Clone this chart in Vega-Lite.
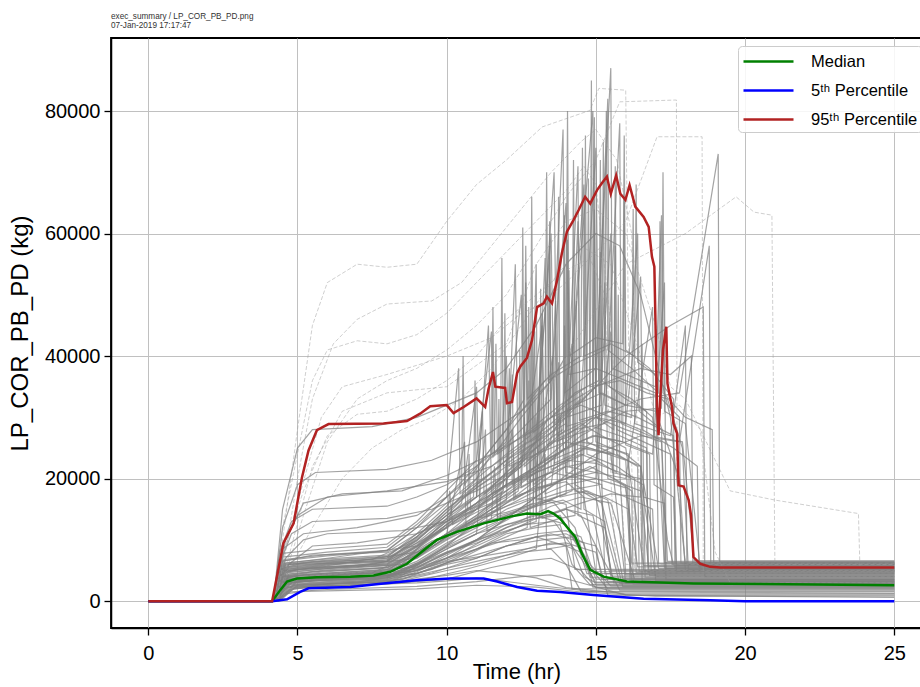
{
"$schema": "https://vega.github.io/schema/vega-lite/v6.json",
"width": 811,
"height": 590,
"autosize": {"type": "none"},
"padding": {"left": 111, "top": 38, "right": 0, "bottom": 59},
"background": "white",
"title": {"text": ["exec_summary / LP_COR_PB_PD.png", "07-Jan-2019 17:17:47"], "anchor": "start", "frame": "group", "fontSize": 8.2, "fontWeight": "normal", "font": "Liberation Sans", "color": "#333333", "offset": 8, "lineHeight": 8.5},
"config": {
  "view": {"stroke": "black", "strokeWidth": 1.8},
  "axis": {"domainColor": "black", "domainWidth": 1.5, "tickColor": "black", "tickWidth": 1.3, "tickSize": 7, "gridColor": "#c0c0c0", "gridWidth": 1, "labelFont": "Liberation Sans", "labelFontSize": 20, "labelColor": "black", "titleFont": "Liberation Sans", "titleFontWeight": "normal", "titleColor": "black"},
  "legend": {"orient": "none", "legendX": 627, "legendY": 8, "symbolType": "M-1,0H4", "symbolSize": 400, "symbolStrokeWidth": 2.5, "labelFontSize": 16.5, "labelFont": "Liberation Sans", "labelColor": "black", "labelOffset": 46, "rowPadding": 9, "fillColor": "rgba(255,255,255,0.85)", "strokeColor": "#cccccc", "cornerRadius": 4, "padding": 4}
},
"datasets": {
"stats": [
{"stat":"Median","t":0,"v":0},{"stat":"Median","t":4.15,"v":0},{"stat":"Median","t":4.42,"v":1800},{"stat":"Median","t":4.65,"v":3200},{"stat":"Median","t":4.98,"v":3700},{"stat":"Median","t":5.65,"v":3900},{"stat":"Median","t":6.77,"v":4000},{"stat":"Median","t":7.55,"v":4200},{"stat":"Median","t":8.11,"v":4800},{"stat":"Median","t":8.67,"v":6100},{"stat":"Median","t":9.23,"v":8300},{"stat":"Median","t":9.67,"v":10000},{"stat":"Median","t":10.34,"v":11300},{"stat":"Median","t":11.24,"v":12700},{"stat":"Median","t":12.13,"v":13800},{"stat":"Median","t":12.69,"v":14300},{"stat":"Median","t":13.14,"v":14200},{"stat":"Median","t":13.4,"v":14700},{"stat":"Median","t":13.58,"v":14300},{"stat":"Median","t":13.8,"v":13500},{"stat":"Median","t":14.03,"v":12100},{"stat":"Median","t":14.31,"v":10500},{"stat":"Median","t":14.53,"v":7800},{"stat":"Median","t":14.81,"v":5100},{"stat":"Median","t":15.26,"v":4000},{"stat":"Median","t":16.04,"v":3200},{"stat":"Median","t":18.27,"v":2900},{"stat":"Median","t":25,"v":2600},
{"stat":"5ᵗʰ Percentile","t":0,"v":0},{"stat":"5ᵗʰ Percentile","t":4.15,"v":0},{"stat":"5ᵗʰ Percentile","t":4.65,"v":300},{"stat":"5ᵗʰ Percentile","t":5.09,"v":1500},{"stat":"5ᵗʰ Percentile","t":5.37,"v":2100},{"stat":"5ᵗʰ Percentile","t":6.77,"v":2300},{"stat":"5ᵗʰ Percentile","t":7.88,"v":2900},{"stat":"5ᵗʰ Percentile","t":9.0,"v":3400},{"stat":"5ᵗʰ Percentile","t":10.12,"v":3700},{"stat":"5ᵗʰ Percentile","t":11.24,"v":3700},{"stat":"5ᵗʰ Percentile","t":11.69,"v":3200},{"stat":"5ᵗʰ Percentile","t":12.36,"v":2300},{"stat":"5ᵗʰ Percentile","t":13.03,"v":1700},{"stat":"5ᵗʰ Percentile","t":13.8,"v":1500},{"stat":"5ᵗʰ Percentile","t":14.92,"v":1000},{"stat":"5ᵗʰ Percentile","t":16.6,"v":400},{"stat":"5ᵗʰ Percentile","t":18.83,"v":150},{"stat":"5ᵗʰ Percentile","t":20,"v":0},{"stat":"5ᵗʰ Percentile","t":25,"v":0},
{"stat":"95ᵗʰ Percentile","t":0,"v":0},{"stat":"95ᵗʰ Percentile","t":4.15,"v":0},{"stat":"95ᵗʰ Percentile","t":4.53,"v":9500},{"stat":"95ᵗʰ Percentile","t":4.87,"v":12700},{"stat":"95ᵗʰ Percentile","t":5.15,"v":20200},{"stat":"95ᵗʰ Percentile","t":5.37,"v":24600},{"stat":"95ᵗʰ Percentile","t":5.65,"v":27900},{"stat":"95ᵗʰ Percentile","t":6.04,"v":28900},{"stat":"95ᵗʰ Percentile","t":7.88,"v":29000},{"stat":"95ᵗʰ Percentile","t":8.67,"v":29400},{"stat":"95ᵗʰ Percentile","t":9.11,"v":30600},{"stat":"95ᵗʰ Percentile","t":9.45,"v":31800},{"stat":"95ᵗʰ Percentile","t":10.0,"v":32000},{"stat":"95ᵗʰ Percentile","t":10.23,"v":30700},{"stat":"95ᵗʰ Percentile","t":10.57,"v":31700},{"stat":"95ᵗʰ Percentile","t":11.0,"v":33100},{"stat":"95ᵗʰ Percentile","t":11.29,"v":31700},{"stat":"95ᵗʰ Percentile","t":11.4,"v":34600},{"stat":"95ᵗʰ Percentile","t":11.55,"v":37400},{"stat":"95ᵗʰ Percentile","t":11.63,"v":35000},{"stat":"95ᵗʰ Percentile","t":11.96,"v":34800},{"stat":"95ᵗʰ Percentile","t":12.02,"v":32300},{"stat":"95ᵗʰ Percentile","t":12.19,"v":32500},{"stat":"95ᵗʰ Percentile","t":12.36,"v":37200},{"stat":"95ᵗʰ Percentile","t":12.47,"v":38300},{"stat":"95ᵗʰ Percentile","t":12.69,"v":39700},{"stat":"95ᵗʰ Percentile","t":12.86,"v":42600},{"stat":"95ᵗʰ Percentile","t":13.03,"v":48000},{"stat":"95ᵗʰ Percentile","t":13.25,"v":48600},{"stat":"95ᵗʰ Percentile","t":13.36,"v":49700},{"stat":"95ᵗʰ Percentile","t":13.53,"v":48600},{"stat":"95ᵗʰ Percentile","t":13.7,"v":52400},{"stat":"95ᵗʰ Percentile","t":13.86,"v":56800},{"stat":"95ᵗʰ Percentile","t":14.03,"v":60300},{"stat":"95ᵗʰ Percentile","t":14.25,"v":62200},{"stat":"95ᵗʰ Percentile","t":14.42,"v":63800},{"stat":"95ᵗʰ Percentile","t":14.64,"v":66000},{"stat":"95ᵗʰ Percentile","t":14.81,"v":64900},{"stat":"95ᵗʰ Percentile","t":15.04,"v":67100},{"stat":"95ᵗʰ Percentile","t":15.2,"v":68200},{"stat":"95ᵗʰ Percentile","t":15.37,"v":69300},{"stat":"95ᵗʰ Percentile","t":15.5,"v":66500},{"stat":"95ᵗʰ Percentile","t":15.68,"v":69500},{"stat":"95ᵗʰ Percentile","t":15.82,"v":66500},{"stat":"95ᵗʰ Percentile","t":15.99,"v":65500},{"stat":"95ᵗʰ Percentile","t":16.13,"v":67900},{"stat":"95ᵗʰ Percentile","t":16.32,"v":64400},{"stat":"95ᵗʰ Percentile","t":16.6,"v":62700},{"stat":"95ᵗʰ Percentile","t":16.77,"v":61100},{"stat":"95ᵗʰ Percentile","t":16.82,"v":58900},{"stat":"95ᵗʰ Percentile","t":16.88,"v":56200},{"stat":"95ᵗʰ Percentile","t":16.96,"v":54600},{"stat":"95ᵗʰ Percentile","t":17.0,"v":45000},{"stat":"95ᵗʰ Percentile","t":17.05,"v":31700},{"stat":"95ᵗʰ Percentile","t":17.1,"v":27100},{"stat":"95ᵗʰ Percentile","t":17.16,"v":33400},{"stat":"95ᵗʰ Percentile","t":17.25,"v":41000},{"stat":"95ᵗʰ Percentile","t":17.36,"v":44800},{"stat":"95ᵗʰ Percentile","t":17.4,"v":35500},{"stat":"95ᵗʰ Percentile","t":17.55,"v":31700},{"stat":"95ᵗʰ Percentile","t":17.6,"v":29000},{"stat":"95ᵗʰ Percentile","t":17.72,"v":27400},{"stat":"95ᵗʰ Percentile","t":17.77,"v":18900},{"stat":"95ᵗʰ Percentile","t":17.94,"v":18700},{"stat":"95ᵗʰ Percentile","t":18.11,"v":16500},{"stat":"95ᵗʰ Percentile","t":18.19,"v":14000},{"stat":"95ᵗʰ Percentile","t":18.27,"v":7200},{"stat":"95ᵗʰ Percentile","t":18.5,"v":6100},{"stat":"95ᵗʰ Percentile","t":18.83,"v":5600},{"stat":"95ᵗʰ Percentile","t":19.17,"v":5500},{"stat":"95ᵗʰ Percentile","t":25,"v":5500}
],
"runs": [
{"run":1,"t":0,"v":0},{"run":1,"t":4.2,"v":0},{"run":1,"t":4.5,"v":2500},{"run":1,"t":5,"v":3200},{"run":1,"t":8,"v":3800},{"run":1,"t":9,"v":5000},{"run":1,"t":10,"v":6500},{"run":1,"t":11,"v":7200},{"run":1,"t":12,"v":8000},{"run":1,"t":13,"v":8800},{"run":1,"t":13.5,"v":9500},{"run":1,"t":14.2,"v":9000},{"run":1,"t":14.6,"v":4000},{"run":1,"t":15,"v":3000},{"run":1,"t":25,"v":3000},
{"run":2,"t":0,"v":0},{"run":2,"t":4.25,"v":0},{"run":2,"t":4.6,"v":3800},{"run":2,"t":5.2,"v":4300},{"run":2,"t":7.5,"v":4600},{"run":2,"t":8.5,"v":6800},{"run":2,"t":9.5,"v":9800},{"run":2,"t":10.5,"v":11500},{"run":2,"t":11.5,"v":13500},{"run":2,"t":11.6,"v":22000},{"run":2,"t":11.7,"v":13800},{"run":2,"t":12.5,"v":15000},{"run":2,"t":13.5,"v":16500},{"run":2,"t":14,"v":15800},{"run":2,"t":14.3,"v":5200},{"run":2,"t":25,"v":5200},
{"run":3,"t":0,"v":0},{"run":3,"t":4.3,"v":0},{"run":3,"t":4.7,"v":1800},{"run":3,"t":5.5,"v":2400},{"run":3,"t":8,"v":2900},{"run":3,"t":9,"v":3600},{"run":3,"t":10,"v":4200},{"run":3,"t":11,"v":5000},{"run":3,"t":12,"v":4500},{"run":3,"t":13,"v":3800},{"run":3,"t":14,"v":2200},{"run":3,"t":16,"v":1200},{"run":3,"t":25,"v":1200},
{"run":4,"t":0,"v":0},{"run":4,"t":4.15,"v":0},{"run":4,"t":4.4,"v":5200},{"run":4,"t":5,"v":6000},{"run":4,"t":8,"v":6500},{"run":4,"t":9,"v":9000},{"run":4,"t":10,"v":12000},{"run":4,"t":10.1,"v":18000},{"run":4,"t":10.2,"v":12500},{"run":4,"t":11,"v":14500},{"run":4,"t":12,"v":17000},{"run":4,"t":12.5,"v":19000},{"run":4,"t":12.6,"v":30000},{"run":4,"t":12.7,"v":19500},{"run":4,"t":13.5,"v":21000},{"run":4,"t":14.5,"v":20000},{"run":4,"t":15.2,"v":19000},{"run":4,"t":15.3,"v":4500},{"run":4,"t":25,"v":4500},
{"run":5,"t":0,"v":0},{"run":5,"t":4.2,"v":0},{"run":5,"t":4.8,"v":3000},{"run":5,"t":6,"v":3500},{"run":5,"t":8,"v":4000},{"run":5,"t":9,"v":6000},{"run":5,"t":10,"v":8500},{"run":5,"t":11,"v":11000},{"run":5,"t":12,"v":12500},{"run":5,"t":13,"v":14000},{"run":5,"t":14,"v":12500},{"run":5,"t":14.8,"v":6000},{"run":5,"t":15.5,"v":2500},{"run":5,"t":25,"v":2500},
{"run":6,"t":0,"v":0},{"run":6,"t":4.35,"v":0},{"run":6,"t":4.9,"v":2200},{"run":6,"t":6,"v":2800},{"run":6,"t":8.5,"v":3500},{"run":6,"t":9.5,"v":5500},{"run":6,"t":10.5,"v":7000},{"run":6,"t":11.5,"v":9500},{"run":6,"t":12.5,"v":10000},{"run":6,"t":13.5,"v":11000},{"run":6,"t":15,"v":9000},{"run":6,"t":15.8,"v":1800},{"run":6,"t":25,"v":1800},
{"run":7,"t":0,"v":0},{"run":7,"t":4.2,"v":0},{"run":7,"t":4.5,"v":4500},{"run":7,"t":5,"v":5200},{"run":7,"t":7,"v":5600},{"run":7,"t":8,"v":6500},{"run":7,"t":9,"v":10500},{"run":7,"t":10,"v":15000},{"run":7,"t":11,"v":18500},{"run":7,"t":11.8,"v":21000},{"run":7,"t":12,"v":40000},{"run":7,"t":12.1,"v":22000},{"run":7,"t":13,"v":24000},{"run":7,"t":14,"v":26000},{"run":7,"t":14.8,"v":25000},{"run":7,"t":16,"v":23000},{"run":7,"t":16.2,"v":6200},{"run":7,"t":25,"v":6200},
{"run":8,"t":0,"v":0},{"run":8,"t":4.3,"v":0},{"run":8,"t":4.6,"v":1200},{"run":8,"t":5.2,"v":1600},{"run":8,"t":9,"v":2000},{"run":8,"t":11,"v":2600},{"run":8,"t":13,"v":2300},{"run":8,"t":14.5,"v":1500},{"run":8,"t":17,"v":800},{"run":8,"t":25,"v":800},
{"run":9,"t":0,"v":0},{"run":9,"t":4.25,"v":0},{"run":9,"t":4.7,"v":3400},{"run":9,"t":5.5,"v":3900},{"run":9,"t":8,"v":4300},{"run":9,"t":9,"v":5000},{"run":9,"t":10,"v":7500},{"run":9,"t":11,"v":10000},{"run":9,"t":12,"v":11500},{"run":9,"t":13,"v":13000},{"run":9,"t":13.1,"v":35000},{"run":9,"t":13.2,"v":13500},{"run":9,"t":14,"v":15000},{"run":9,"t":14.5,"v":14000},{"run":9,"t":15,"v":9000},{"run":9,"t":15.2,"v":3500},{"run":9,"t":25,"v":3500},
{"run":10,"t":0,"v":0},{"run":10,"t":4.2,"v":0},{"run":10,"t":4.55,"v":2900},{"run":10,"t":5.5,"v":3300},{"run":10,"t":8,"v":3600},{"run":10,"t":9,"v":4500},{"run":10,"t":10,"v":6000},{"run":10,"t":11,"v":7000},{"run":10,"t":12,"v":9000},{"run":10,"t":13,"v":10500},{"run":10,"t":14,"v":9000},{"run":10,"t":14.2,"v":2000},{"run":10,"t":25,"v":2000},
{"run":11,"t":0,"v":0},{"run":11,"t":4.4,"v":0},{"run":11,"t":5,"v":2600},{"run":11,"t":7,"v":3100},{"run":11,"t":8.5,"v":4200},{"run":11,"t":10,"v":9000},{"run":11,"t":11,"v":13000},{"run":11,"t":12,"v":16000},{"run":11,"t":12.8,"v":18000},{"run":11,"t":13,"v":55000},{"run":11,"t":13.05,"v":18500},{"run":11,"t":14,"v":20000},{"run":11,"t":15,"v":22000},{"run":11,"t":15.5,"v":60000},{"run":11,"t":15.55,"v":21000},{"run":11,"t":16.5,"v":20000},{"run":11,"t":17,"v":4000},{"run":11,"t":25,"v":4000},
{"run":12,"t":0,"v":0},{"run":12,"t":4.2,"v":0},{"run":12,"t":4.5,"v":4000},{"run":12,"t":5.5,"v":4800},{"run":12,"t":8,"v":5400},{"run":12,"t":9.2,"v":8000},{"run":12,"t":10.5,"v":12000},{"run":12,"t":11.5,"v":15000},{"run":12,"t":12.5,"v":17500},{"run":12,"t":13.5,"v":19000},{"run":12,"t":14.2,"v":42000},{"run":12,"t":14.3,"v":19000},{"run":12,"t":15,"v":17000},{"run":12,"t":15.6,"v":3000},{"run":12,"t":25,"v":3000},
{"run":13,"t":0,"v":0},{"run":13,"t":4.3,"v":0},{"run":13,"t":4.8,"v":2000},{"run":13,"t":6,"v":2500},{"run":13,"t":9,"v":3000},{"run":13,"t":10,"v":3300},{"run":13,"t":11,"v":3800},{"run":13,"t":12,"v":3200},{"run":13,"t":13,"v":2600},{"run":13,"t":15,"v":1500},{"run":13,"t":25,"v":1300},
{"run":14,"t":0,"v":0},{"run":14,"t":4.2,"v":0},{"run":14,"t":4.6,"v":3700},{"run":14,"t":5,"v":4100},{"run":14,"t":8,"v":4700},{"run":14,"t":9,"v":7200},{"run":14,"t":10,"v":10500},{"run":14,"t":10.8,"v":13000},{"run":14,"t":11.8,"v":16500},{"run":14,"t":12.2,"v":28000},{"run":14,"t":12.3,"v":17000},{"run":14,"t":13,"v":18500},{"run":14,"t":14,"v":19500},{"run":14,"t":14.6,"v":17000},{"run":14,"t":15,"v":4800},{"run":14,"t":25,"v":4800},
{"run":15,"t":0,"v":0},{"run":15,"t":4.25,"v":0},{"run":15,"t":4.5,"v":5800},{"run":15,"t":5.5,"v":6400},{"run":15,"t":7.5,"v":6800},{"run":15,"t":8.8,"v":9500},{"run":15,"t":10,"v":14000},{"run":15,"t":11,"v":19000},{"run":15,"t":12,"v":23000},{"run":15,"t":13,"v":26000},{"run":15,"t":13.6,"v":70000},{"run":15,"t":13.7,"v":27000},{"run":15,"t":14.5,"v":29000},{"run":15,"t":15.2,"v":27000},{"run":15,"t":16,"v":25000},{"run":15,"t":16.6,"v":5800},{"run":15,"t":25,"v":5800},
{"run":16,"t":0,"v":0},{"run":16,"t":4.3,"v":0},{"run":16,"t":4.7,"v":2700},{"run":16,"t":6,"v":3100},{"run":16,"t":8,"v":3400},{"run":16,"t":9.5,"v":5200},{"run":16,"t":11,"v":8500},{"run":16,"t":12,"v":11000},{"run":16,"t":13,"v":12000},{"run":16,"t":13.8,"v":12500},{"run":16,"t":14.2,"v":6000},{"run":16,"t":14.8,"v":2700},{"run":16,"t":25,"v":2700},
{"run":17,"t":0,"v":0},{"run":17,"t":4.2,"v":0},{"run":17,"t":4.6,"v":4400},{"run":17,"t":6,"v":5100},{"run":17,"t":8.5,"v":6000},{"run":17,"t":9.5,"v":11000},{"run":17,"t":10.5,"v":16000},{"run":17,"t":11,"v":35000},{"run":17,"t":11.1,"v":17000},{"run":17,"t":12,"v":20000},{"run":17,"t":13,"v":24000},{"run":17,"t":14,"v":28000},{"run":17,"t":14.9,"v":80000},{"run":17,"t":15,"v":30000},{"run":17,"t":16,"v":28000},{"run":17,"t":17.2,"v":26000},{"run":17,"t":17.4,"v":6500},{"run":17,"t":25,"v":6500},
{"run":18,"t":0,"v":0},{"run":18,"t":4.35,"v":0},{"run":18,"t":5,"v":3300},{"run":18,"t":7,"v":3800},{"run":18,"t":9,"v":5000},{"run":18,"t":10.5,"v":8000},{"run":18,"t":12,"v":12000},{"run":18,"t":13.5,"v":15500},{"run":18,"t":14.5,"v":17000},{"run":18,"t":15.5,"v":16000},{"run":18,"t":16.3,"v":3600},{"run":18,"t":25,"v":3600},
{"run":19,"t":0,"v":0},{"run":19,"t":4.2,"v":0},{"run":19,"t":4.7,"v":2300},{"run":19,"t":8,"v":2800},{"run":19,"t":10,"v":3600},{"run":19,"t":11.5,"v":5500},{"run":19,"t":12.5,"v":6500},{"run":19,"t":13.5,"v":7000},{"run":19,"t":14.5,"v":5000},{"run":19,"t":15,"v":2200},{"run":19,"t":25,"v":2200},
{"run":20,"t":0,"v":0},{"run":20,"t":4.25,"v":0},{"run":20,"t":4.5,"v":3500},{"run":20,"t":5.5,"v":4000},{"run":20,"t":8,"v":4600},{"run":20,"t":9,"v":6500},{"run":20,"t":10,"v":9500},{"run":20,"t":11,"v":12000},{"run":20,"t":12,"v":15000},{"run":20,"t":13,"v":17000},{"run":20,"t":13.2,"v":47000},{"run":20,"t":13.3,"v":17500},{"run":20,"t":14,"v":19000},{"run":20,"t":15,"v":20000},{"run":20,"t":15.3,"v":52000},{"run":20,"t":15.4,"v":20000},{"run":20,"t":16.5,"v":18000},{"run":20,"t":16.8,"v":4200},{"run":20,"t":25,"v":4200},
{"run":21,"t":0,"v":0},{"run":21,"t":4.2,"v":0},{"run":21,"t":4.4,"v":8000},{"run":21,"t":4.8,"v":13000},{"run":21,"t":5.5,"v":15000},{"run":21,"t":8,"v":15500},{"run":21,"t":9,"v":17000},{"run":21,"t":10,"v":19000},{"run":21,"t":11,"v":22000},{"run":21,"t":12,"v":26000},{"run":21,"t":12.5,"v":50000},{"run":21,"t":12.6,"v":27000},{"run":21,"t":13.5,"v":30000},{"run":21,"t":14.5,"v":32000},{"run":21,"t":15.5,"v":30000},{"run":21,"t":16.5,"v":28000},{"run":21,"t":16.6,"v":5000},{"run":21,"t":25,"v":5000},
{"run":22,"t":0,"v":0},{"run":22,"t":4.2,"v":0},{"run":22,"t":4.5,"v":12000},{"run":22,"t":5,"v":19000},{"run":22,"t":5.6,"v":21000},{"run":22,"t":8,"v":21500},{"run":22,"t":9.5,"v":23000},{"run":22,"t":11,"v":26000},{"run":22,"t":12.5,"v":31000},{"run":22,"t":13.5,"v":36000},{"run":22,"t":14,"v":65000},{"run":22,"t":14.1,"v":37000},{"run":22,"t":15,"v":38000},{"run":22,"t":16,"v":36000},{"run":22,"t":17,"v":34000},{"run":22,"t":17.3,"v":5400},{"run":22,"t":25,"v":5400},
{"run":23,"t":0,"v":0},{"run":23,"t":4.25,"v":0},{"run":23,"t":4.6,"v":7000},{"run":23,"t":5.2,"v":10000},{"run":23,"t":6,"v":11000},{"run":23,"t":8.5,"v":11500},{"run":23,"t":10,"v":13000},{"run":23,"t":11.5,"v":16000},{"run":23,"t":13,"v":20000},{"run":23,"t":14,"v":22000},{"run":23,"t":15,"v":21000},{"run":23,"t":15.5,"v":44000},{"run":23,"t":15.6,"v":20000},{"run":23,"t":16,"v":19000},{"run":23,"t":16.2,"v":3300},{"run":23,"t":25,"v":3300},
{"run":24,"t":0,"v":0},{"run":24,"t":4.2,"v":0},{"run":24,"t":4.5,"v":15000},{"run":24,"t":5,"v":25000},{"run":24,"t":5.5,"v":28000},{"run":24,"t":7.5,"v":28500},{"run":24,"t":9,"v":30000},{"run":24,"t":10,"v":32000},{"run":24,"t":11,"v":34000},{"run":24,"t":12,"v":38000},{"run":24,"t":13,"v":45000},{"run":24,"t":14,"v":55000},{"run":24,"t":15,"v":60000},{"run":24,"t":15.8,"v":58000},{"run":24,"t":16.5,"v":50000},{"run":24,"t":17.5,"v":30000},{"run":24,"t":18,"v":6000},{"run":24,"t":25,"v":6000},
{"run":25,"t":0,"v":0},{"run":25,"t":4.3,"v":0},{"run":25,"t":4.7,"v":6000},{"run":25,"t":5.5,"v":9000},{"run":25,"t":7,"v":9500},{"run":25,"t":9,"v":11000},{"run":25,"t":10.5,"v":14500},{"run":25,"t":12,"v":19000},{"run":25,"t":12.1,"v":38000},{"run":25,"t":12.2,"v":19000},{"run":25,"t":13.5,"v":23000},{"run":25,"t":14.5,"v":25000},{"run":25,"t":15.5,"v":24000},{"run":25,"t":16,"v":2900},{"run":25,"t":25,"v":2900},
{"run":26,"t":0,"v":0},{"run":26,"t":4.25,"v":0},{"run":26,"t":4.6,"v":10000},{"run":26,"t":5.2,"v":16000},{"run":26,"t":6.5,"v":17500},{"run":26,"t":8.5,"v":18000},{"run":26,"t":10,"v":20500},{"run":26,"t":11.5,"v":24000},{"run":26,"t":13,"v":28000},{"run":26,"t":13.5,"v":60000},{"run":26,"t":13.6,"v":29000},{"run":26,"t":14.5,"v":33000},{"run":26,"t":15,"v":74000},{"run":26,"t":15.1,"v":34000},{"run":26,"t":16,"v":32000},{"run":26,"t":17,"v":31000},{"run":26,"t":17.8,"v":20000},{"run":26,"t":18,"v":5000},{"run":26,"t":25,"v":5000},
{"run":27,"t":0,"v":0},{"run":27,"t":4.2,"v":0},{"run":27,"t":4.4,"v":3000},{"run":27,"t":5,"v":3600},{"run":27,"t":8,"v":4000},{"run":27,"t":9,"v":5500},{"run":27,"t":10,"v":7000},{"run":27,"t":11,"v":8500},{"run":27,"t":12,"v":10000},{"run":27,"t":13,"v":11000},{"run":27,"t":14,"v":11500},{"run":27,"t":14.5,"v":10500},{"run":27,"t":15,"v":3600},{"run":27,"t":25,"v":3600},
{"run":28,"t":0,"v":0},{"run":28,"t":4.3,"v":0},{"run":28,"t":4.6,"v":4800},{"run":28,"t":5.5,"v":5500},{"run":28,"t":8,"v":5800},{"run":28,"t":9,"v":8000},{"run":28,"t":10,"v":11000},{"run":28,"t":11,"v":13500},{"run":28,"t":12,"v":15500},{"run":28,"t":12.9,"v":17000},{"run":28,"t":13.6,"v":16000},{"run":28,"t":14.3,"v":12000},{"run":28,"t":14.8,"v":3900},{"run":28,"t":25,"v":3900},
{"run":29,"t":0,"v":0},{"run":29,"t":4.2,"v":0},{"run":29,"t":4.5,"v":2000},{"run":29,"t":5,"v":2700},{"run":29,"t":8,"v":3200},{"run":29,"t":9.5,"v":4800},{"run":29,"t":11,"v":6500},{"run":29,"t":12.5,"v":8000},{"run":29,"t":13.5,"v":8500},{"run":29,"t":14,"v":6000},{"run":29,"t":14.5,"v":1600},{"run":29,"t":25,"v":1600},
{"run":30,"t":0,"v":0},{"run":30,"t":4.25,"v":0},{"run":30,"t":4.6,"v":5500},{"run":30,"t":6,"v":6200},{"run":30,"t":8,"v":6700},{"run":30,"t":9,"v":10000},{"run":30,"t":10,"v":14000},{"run":30,"t":11,"v":17000},{"run":30,"t":11.4,"v":45000},{"run":30,"t":11.5,"v":17500},{"run":30,"t":12.5,"v":20000},{"run":30,"t":13.5,"v":22000},{"run":30,"t":14.5,"v":24000},{"run":30,"t":15,"v":23000},{"run":30,"t":15.5,"v":5000},{"run":30,"t":25,"v":5000},
{"run":31,"t":0,"v":0},{"run":31,"t":4.2,"v":0},{"run":31,"t":4.5,"v":3200},{"run":31,"t":6,"v":3700},{"run":31,"t":8.2,"v":4200},{"run":31,"t":9.5,"v":7000},{"run":31,"t":11,"v":10000},{"run":31,"t":12,"v":12500},{"run":31,"t":13,"v":13500},{"run":31,"t":13.8,"v":14000},{"run":31,"t":14.4,"v":9000},{"run":31,"t":14.7,"v":4500},{"run":31,"t":25,"v":4500},
{"run":32,"t":0,"v":0},{"run":32,"t":4.35,"v":0},{"run":32,"t":4.7,"v":4100},{"run":32,"t":6,"v":4600},{"run":32,"t":8,"v":5200},{"run":32,"t":9,"v":7500},{"run":32,"t":10.3,"v":11000},{"run":32,"t":11,"v":13500},{"run":32,"t":12,"v":14500},{"run":32,"t":13,"v":16000},{"run":32,"t":14,"v":17500},{"run":32,"t":14.4,"v":62000},{"run":32,"t":14.5,"v":18000},{"run":32,"t":15.2,"v":16000},{"run":32,"t":15.9,"v":2400},{"run":32,"t":25,"v":2400},
{"run":33,"t":0,"v":0},{"run":33,"t":4.2,"v":0},{"run":33,"t":4.5,"v":6500},{"run":33,"t":5.5,"v":7500},{"run":33,"t":8,"v":8000},{"run":33,"t":9,"v":11000},{"run":33,"t":10,"v":13000},{"run":33,"t":11,"v":15500},{"run":33,"t":12,"v":18000},{"run":33,"t":13,"v":21000},{"run":33,"t":13.8,"v":30000},{"run":33,"t":14,"v":21000},{"run":33,"t":15,"v":20000},{"run":33,"t":16,"v":18500},{"run":33,"t":16.4,"v":5600},{"run":33,"t":25,"v":5600},
{"run":34,"t":0,"v":0},{"run":34,"t":4.3,"v":0},{"run":34,"t":4.8,"v":2500},{"run":34,"t":7,"v":3000},{"run":34,"t":8.5,"v":3300},{"run":34,"t":10,"v":5000},{"run":34,"t":11,"v":6000},{"run":34,"t":12,"v":7500},{"run":34,"t":13,"v":9000},{"run":34,"t":14,"v":9500},{"run":34,"t":15,"v":8000},{"run":34,"t":15.4,"v":1000},{"run":34,"t":25,"v":1000},
{"run":35,"t":0,"v":0},{"run":35,"t":4.2,"v":0},{"run":35,"t":4.5,"v":3900},{"run":35,"t":5.5,"v":4400},{"run":35,"t":8,"v":4900},{"run":35,"t":9,"v":8500},{"run":35,"t":10,"v":12500},{"run":35,"t":11,"v":15000},{"run":35,"t":12,"v":19000},{"run":35,"t":12.3,"v":55000},{"run":35,"t":12.4,"v":19500},{"run":35,"t":13,"v":21000},{"run":35,"t":14,"v":23000},{"run":35,"t":15,"v":22500},{"run":35,"t":15.8,"v":21000},{"run":35,"t":16,"v":4300},{"run":35,"t":25,"v":4300},
{"run":36,"t":0,"v":0},{"run":36,"t":4.25,"v":0},{"run":36,"t":4.6,"v":2900},{"run":36,"t":5.5,"v":3400},{"run":36,"t":8,"v":3800},{"run":36,"t":9,"v":5500},{"run":36,"t":10,"v":8000},{"run":36,"t":11,"v":9500},{"run":36,"t":11.8,"v":11000},{"run":36,"t":12.6,"v":12500},{"run":36,"t":13.6,"v":13000},{"run":36,"t":14.5,"v":7000},{"run":36,"t":15,"v":3100},{"run":36,"t":25,"v":3100},
{"run":37,"t":0,"v":0},{"run":37,"t":4.3,"v":0},{"run":37,"t":4.7,"v":5000},{"run":37,"t":6,"v":5700},{"run":37,"t":8,"v":6000},{"run":37,"t":9.2,"v":9500},{"run":37,"t":10.2,"v":12800},{"run":37,"t":11.2,"v":16000},{"run":37,"t":12.2,"v":19500},{"run":37,"t":13.2,"v":22000},{"run":37,"t":14,"v":25000},{"run":37,"t":14.6,"v":68000},{"run":37,"t":14.7,"v":26000},{"run":37,"t":15.6,"v":24000},{"run":37,"t":16.5,"v":22000},{"run":37,"t":17.1,"v":5300},{"run":37,"t":25,"v":5300},
{"run":38,"t":0,"v":0},{"run":38,"t":4.2,"v":0},{"run":38,"t":4.6,"v":3500},{"run":38,"t":6,"v":3900},{"run":38,"t":9,"v":4500},{"run":38,"t":10,"v":6200},{"run":38,"t":11,"v":7600},{"run":38,"t":12,"v":9000},{"run":38,"t":13.2,"v":10000},{"run":38,"t":14.2,"v":10500},{"run":38,"t":14.8,"v":5500},{"run":38,"t":15.4,"v":2000},{"run":38,"t":25,"v":2000},
{"run":39,"t":0,"v":0},{"run":39,"t":4.3,"v":0},{"run":39,"t":4.7,"v":6000},{"run":39,"t":8,"v":7000},{"run":39,"t":10,"v":12000},{"run":39,"t":12,"v":20000},{"run":39,"t":14,"v":30000},{"run":39,"t":16,"v":40000},{"run":39,"t":17.5,"v":45000},{"run":39,"t":18.6,"v":48000},{"run":39,"t":18.65,"v":4000},{"run":39,"t":25,"v":4000},
{"run":40,"t":0,"v":0},{"run":40,"t":4.25,"v":0},{"run":40,"t":4.6,"v":4600},{"run":40,"t":6,"v":5300},{"run":40,"t":9,"v":7000},{"run":40,"t":11,"v":14000},{"run":40,"t":13,"v":22000},{"run":40,"t":15,"v":30000},{"run":40,"t":16.5,"v":33000},{"run":40,"t":17.8,"v":34000},{"run":40,"t":19.1,"v":73000},{"run":40,"t":19.15,"v":6400},{"run":40,"t":25,"v":6400},
{"run":41,"t":0,"v":0},{"run":41,"t":4.2,"v":0},{"run":41,"t":4.6,"v":4200},{"run":41,"t":6,"v":4800},{"run":41,"t":8,"v":5500},{"run":41,"t":9,"v":8000},{"run":41,"t":10,"v":11000},{"run":41,"t":10.6,"v":26000},{"run":41,"t":10.65,"v":12000},{"run":41,"t":11.5,"v":15000},{"run":41,"t":12.4,"v":18000},{"run":41,"t":12.45,"v":41000},{"run":41,"t":12.5,"v":18500},{"run":41,"t":13.4,"v":21000},{"run":41,"t":13.45,"v":58000},{"run":41,"t":13.5,"v":21500},{"run":41,"t":14.6,"v":24000},{"run":41,"t":14.65,"v":76000},{"run":41,"t":14.7,"v":24000},{"run":41,"t":15.7,"v":22000},{"run":41,"t":16.3,"v":20000},{"run":41,"t":16.35,"v":4700},{"run":41,"t":25,"v":4700},
{"run":42,"t":0,"v":0},{"run":42,"t":4.3,"v":0},{"run":42,"t":4.7,"v":3100},{"run":42,"t":6,"v":3600},{"run":42,"t":8,"v":4100},{"run":42,"t":9,"v":6000},{"run":42,"t":10,"v":9000},{"run":42,"t":11,"v":11500},{"run":42,"t":11.7,"v":13000},{"run":42,"t":11.75,"v":33000},{"run":42,"t":11.8,"v":13500},{"run":42,"t":12.9,"v":16000},{"run":42,"t":12.95,"v":44000},{"run":42,"t":13,"v":16500},{"run":42,"t":14,"v":18000},{"run":42,"t":15.1,"v":19000},{"run":42,"t":15.15,"v":57000},{"run":42,"t":15.2,"v":18500},{"run":42,"t":16,"v":17000},{"run":42,"t":16.9,"v":15000},{"run":42,"t":17,"v":3400},{"run":42,"t":25,"v":3400},
{"run":43,"t":0,"v":0},{"run":43,"t":4.2,"v":0},{"run":43,"t":4.5,"v":5000},{"run":43,"t":6,"v":5600},{"run":43,"t":8,"v":6200},{"run":43,"t":9,"v":9000},{"run":43,"t":10,"v":13000},{"run":43,"t":11,"v":17000},{"run":43,"t":11.2,"v":31000},{"run":43,"t":11.25,"v":17500},{"run":43,"t":12,"v":21000},{"run":43,"t":13,"v":25000},{"run":43,"t":13.9,"v":28000},{"run":43,"t":13.95,"v":63000},{"run":43,"t":14,"v":28500},{"run":43,"t":15,"v":30000},{"run":43,"t":15.6,"v":28000},{"run":43,"t":15.65,"v":71000},{"run":43,"t":15.7,"v":28000},{"run":43,"t":16.6,"v":26000},{"run":43,"t":17.5,"v":24000},{"run":43,"t":17.55,"v":6000},{"run":43,"t":25,"v":6000},
{"run":44,"t":0,"v":0},{"run":44,"t":4.25,"v":0},{"run":44,"t":4.6,"v":2600},{"run":44,"t":6,"v":3000},{"run":44,"t":8,"v":3500},{"run":44,"t":9.5,"v":5800},{"run":44,"t":11,"v":8500},{"run":44,"t":12,"v":10500},{"run":44,"t":12.7,"v":12000},{"run":44,"t":12.75,"v":36000},{"run":44,"t":12.8,"v":12000},{"run":44,"t":13.8,"v":13500},{"run":44,"t":14.3,"v":14000},{"run":44,"t":14.35,"v":49000},{"run":44,"t":14.4,"v":14000},{"run":44,"t":15.3,"v":12000},{"run":44,"t":15.8,"v":2900},{"run":44,"t":25,"v":2900},
{"run":45,"t":0,"v":0},{"run":45,"t":4.2,"v":0},{"run":45,"t":4.55,"v":6800},{"run":45,"t":6,"v":7600},{"run":45,"t":8,"v":8300},{"run":45,"t":9,"v":12000},{"run":45,"t":10,"v":16000},{"run":45,"t":11,"v":20000},{"run":45,"t":12,"v":24000},{"run":45,"t":12.8,"v":27000},{"run":45,"t":12.85,"v":66000},{"run":45,"t":12.9,"v":27500},{"run":45,"t":14,"v":32000},{"run":45,"t":15,"v":35000},{"run":45,"t":15.4,"v":82000},{"run":45,"t":15.45,"v":35000},{"run":45,"t":16.2,"v":33000},{"run":45,"t":16.9,"v":30000},{"run":45,"t":17.4,"v":10000},{"run":45,"t":17.6,"v":5900},{"run":45,"t":25,"v":5900},
{"run":46,"t":0,"v":0},{"run":46,"t":4.3,"v":0},{"run":46,"t":4.8,"v":2100},{"run":46,"t":7,"v":2600},{"run":46,"t":9,"v":3300},{"run":46,"t":10.5,"v":5000},{"run":46,"t":12,"v":7000},{"run":46,"t":13,"v":8500},{"run":46,"t":13.3,"v":24000},{"run":46,"t":13.35,"v":8500},{"run":46,"t":14,"v":9000},{"run":46,"t":14.5,"v":8000},{"run":46,"t":15,"v":2600},{"run":46,"t":25,"v":2600},
{"run":47,"t":0,"v":0},{"run":47,"t":4.2,"v":0},{"run":47,"t":4.5,"v":4700},{"run":47,"t":6,"v":5300},{"run":47,"t":8,"v":5900},{"run":47,"t":9,"v":8500},{"run":47,"t":10,"v":12000},{"run":47,"t":11,"v":15000},{"run":47,"t":11.9,"v":18000},{"run":47,"t":11.95,"v":47000},{"run":47,"t":12,"v":18500},{"run":47,"t":13,"v":22000},{"run":47,"t":14,"v":25000},{"run":47,"t":14.1,"v":54000},{"run":47,"t":14.15,"v":25500},{"run":47,"t":15,"v":27000},{"run":47,"t":15.9,"v":26000},{"run":47,"t":15.95,"v":66000},{"run":47,"t":16,"v":25500},{"run":47,"t":16.8,"v":24000},{"run":47,"t":16.85,"v":5100},{"run":47,"t":25,"v":5100},
{"run":48,"t":0,"v":0},{"run":48,"t":4.25,"v":0},{"run":48,"t":4.6,"v":3300},{"run":48,"t":6,"v":3800},{"run":48,"t":8,"v":4200},{"run":48,"t":9,"v":6200},{"run":48,"t":10,"v":8800},{"run":48,"t":11,"v":11000},{"run":48,"t":12,"v":13500},{"run":48,"t":13,"v":15500},{"run":48,"t":13.7,"v":17000},{"run":48,"t":13.75,"v":39000},{"run":48,"t":13.8,"v":17000},{"run":48,"t":14.7,"v":18000},{"run":48,"t":15.4,"v":16500},{"run":48,"t":15.9,"v":3700},{"run":48,"t":25,"v":3700},
{"run":49,"t":0,"v":0},{"run":49,"t":4.2,"v":0},{"run":49,"t":4.5,"v":7200},{"run":49,"t":6,"v":8000},{"run":49,"t":8,"v":8800},{"run":49,"t":9,"v":12500},{"run":49,"t":10,"v":17000},{"run":49,"t":10.4,"v":38000},{"run":49,"t":10.45,"v":17500},{"run":49,"t":11.5,"v":21000},{"run":49,"t":12.5,"v":25000},{"run":49,"t":13.5,"v":29000},{"run":49,"t":14.2,"v":32000},{"run":49,"t":14.25,"v":72000},{"run":49,"t":14.3,"v":32000},{"run":49,"t":15.2,"v":34000},{"run":49,"t":16,"v":32000},{"run":49,"t":16.4,"v":60000},{"run":49,"t":16.45,"v":31000},{"run":49,"t":17.2,"v":28000},{"run":49,"t":17.3,"v":6300},{"run":49,"t":25,"v":6300},
{"run":50,"t":0,"v":0},{"run":50,"t":4.35,"v":0},{"run":50,"t":4.7,"v":1500},{"run":50,"t":6,"v":1900},{"run":50,"t":9,"v":2400},{"run":50,"t":11,"v":3200},{"run":50,"t":12.5,"v":4000},{"run":50,"t":13.5,"v":4300},{"run":50,"t":14.5,"v":3000},{"run":50,"t":16,"v":1000},{"run":50,"t":25,"v":600},
{"run":51,"t":0,"v":0},{"run":51,"t":4.2,"v":0},{"run":51,"t":4.6,"v":5300},{"run":51,"t":6,"v":6000},{"run":51,"t":8,"v":6600},{"run":51,"t":9,"v":9500},{"run":51,"t":10,"v":13500},{"run":51,"t":11,"v":17000},{"run":51,"t":12,"v":20500},{"run":51,"t":12.6,"v":23000},{"run":51,"t":12.65,"v":52000},{"run":51,"t":12.7,"v":23000},{"run":51,"t":13.6,"v":26000},{"run":51,"t":14.8,"v":28000},{"run":51,"t":14.85,"v":85000},{"run":51,"t":14.9,"v":28500},{"run":51,"t":15.8,"v":27000},{"run":51,"t":16.7,"v":25000},{"run":51,"t":16.75,"v":5700},{"run":51,"t":25,"v":5700},
{"run":52,"t":0,"v":0},{"run":52,"t":4.3,"v":0},{"run":52,"t":4.6,"v":3700},{"run":52,"t":6,"v":4200},{"run":52,"t":8,"v":4700},{"run":52,"t":9,"v":7000},{"run":52,"t":10,"v":10000},{"run":52,"t":11,"v":12500},{"run":52,"t":12,"v":14000},{"run":52,"t":13,"v":15500},{"run":52,"t":13.9,"v":16500},{"run":52,"t":14.5,"v":15000},{"run":52,"t":14.55,"v":34000},{"run":52,"t":14.6,"v":15000},{"run":52,"t":15.3,"v":13000},{"run":52,"t":15.5,"v":4100},{"run":52,"t":25,"v":4100},
{"run":53,"t":0,"v":0},{"run":53,"t":4.2,"v":0},{"run":53,"t":4.5,"v":8500},{"run":53,"t":5.2,"v":11000},{"run":53,"t":7,"v":12000},{"run":53,"t":9,"v":14000},{"run":53,"t":10,"v":17000},{"run":53,"t":11,"v":21000},{"run":53,"t":11.6,"v":24000},{"run":53,"t":11.65,"v":42000},{"run":53,"t":11.7,"v":24000},{"run":53,"t":12.8,"v":28000},{"run":53,"t":13.8,"v":32000},{"run":53,"t":14.7,"v":35000},{"run":53,"t":14.75,"v":69000},{"run":53,"t":14.8,"v":35000},{"run":53,"t":15.8,"v":36000},{"run":53,"t":16.7,"v":34000},{"run":53,"t":17.4,"v":33000},{"run":53,"t":17.9,"v":25000},{"run":53,"t":18.1,"v":5200},{"run":53,"t":25,"v":5200},
{"run":54,"t":0,"v":0},{"run":54,"t":4.25,"v":0},{"run":54,"t":4.6,"v":2400},{"run":54,"t":6,"v":2800},{"run":54,"t":8,"v":3100},{"run":54,"t":9.5,"v":4600},{"run":54,"t":11,"v":7000},{"run":54,"t":12,"v":9000},{"run":54,"t":13,"v":10500},{"run":54,"t":14,"v":11000},{"run":54,"t":14.6,"v":9500},{"run":54,"t":14.9,"v":2300},{"run":54,"t":25,"v":2300},
{"run":55,"t":0,"v":0},{"run":55,"t":4.2,"v":0},{"run":55,"t":4.55,"v":6200},{"run":55,"t":6,"v":6900},{"run":55,"t":8,"v":7500},{"run":55,"t":9,"v":10500},{"run":55,"t":10,"v":14500},{"run":55,"t":11,"v":18500},{"run":55,"t":12,"v":22000},{"run":55,"t":13,"v":25000},{"run":55,"t":13.3,"v":56000},{"run":55,"t":13.35,"v":25500},{"run":55,"t":14.3,"v":28000},{"run":55,"t":15.3,"v":29000},{"run":55,"t":15.8,"v":78000},{"run":55,"t":15.85,"v":29000},{"run":55,"t":16.8,"v":27000},{"run":55,"t":17.9,"v":26000},{"run":55,"t":18.3,"v":6600},{"run":55,"t":25,"v":6600},
{"run":56,"t":0,"v":0},{"run":56,"t":4.3,"v":0},{"run":56,"t":4.7,"v":4400},{"run":56,"t":6,"v":5000},{"run":56,"t":8,"v":5500},{"run":56,"t":9,"v":7800},{"run":56,"t":10,"v":10800},{"run":56,"t":11,"v":13000},{"run":56,"t":12,"v":15500},{"run":56,"t":13,"v":18000},{"run":56,"t":14,"v":20000},{"run":56,"t":15,"v":21000},{"run":56,"t":16,"v":20000},{"run":56,"t":16.9,"v":48000},{"run":56,"t":16.95,"v":19000},{"run":56,"t":17.6,"v":17000},{"run":56,"t":17.7,"v":4900},{"run":56,"t":25,"v":4900},
{"run":57,"t":0,"v":0},{"run":57,"t":4.2,"v":0},{"run":57,"t":4.4,"v":6000},{"run":57,"t":4.8,"v":11000},{"run":57,"t":5.5,"v":13000},{"run":57,"t":8,"v":13500},{"run":57,"t":9.5,"v":15000},{"run":57,"t":11,"v":18000},{"run":57,"t":12.5,"v":22000},{"run":57,"t":13.2,"v":45000},{"run":57,"t":13.25,"v":23000},{"run":57,"t":14.5,"v":26000},{"run":57,"t":15.5,"v":25000},{"run":57,"t":16.1,"v":24000},{"run":57,"t":16.15,"v":4400},{"run":57,"t":25,"v":4400},
{"run":58,"t":0,"v":0},{"run":58,"t":4.25,"v":0},{"run":58,"t":4.5,"v":9000},{"run":58,"t":5,"v":14000},{"run":58,"t":6,"v":17000},{"run":58,"t":8,"v":18000},{"run":58,"t":10,"v":19500},{"run":58,"t":11.5,"v":22000},{"run":58,"t":12.7,"v":26000},{"run":58,"t":12.75,"v":48000},{"run":58,"t":12.8,"v":26000},{"run":58,"t":14,"v":30000},{"run":58,"t":15.2,"v":32000},{"run":58,"t":15.25,"v":75000},{"run":58,"t":15.3,"v":32000},{"run":58,"t":16.4,"v":30000},{"run":58,"t":17.6,"v":27000},{"run":58,"t":17.7,"v":5800},{"run":58,"t":25,"v":5800},
{"run":59,"t":0,"v":0},{"run":59,"t":4.2,"v":0},{"run":59,"t":4.5,"v":5600},{"run":59,"t":6,"v":6300},{"run":59,"t":8,"v":7000},{"run":59,"t":9,"v":10000},{"run":59,"t":10,"v":14000},{"run":59,"t":10.9,"v":17000},{"run":59,"t":10.95,"v":36000},{"run":59,"t":11,"v":17000},{"run":59,"t":12,"v":20000},{"run":59,"t":12.5,"v":22000},{"run":59,"t":12.55,"v":61000},{"run":59,"t":12.6,"v":22000},{"run":59,"t":13.6,"v":26000},{"run":59,"t":13.65,"v":49000},{"run":59,"t":13.7,"v":26000},{"run":59,"t":14.9,"v":30000},{"run":59,"t":14.95,"v":79000},{"run":59,"t":15,"v":30000},{"run":59,"t":16,"v":29000},{"run":59,"t":16.5,"v":53000},{"run":59,"t":16.55,"v":28000},{"run":59,"t":17.6,"v":25000},{"run":59,"t":18.4,"v":22000},{"run":59,"t":18.45,"v":5600},{"run":59,"t":25,"v":5600},
{"run":60,"t":0,"v":0},{"run":60,"t":4.25,"v":0},{"run":60,"t":4.6,"v":3000},{"run":60,"t":6,"v":3500},{"run":60,"t":8,"v":3900},{"run":60,"t":9,"v":5800},{"run":60,"t":10,"v":8500},{"run":60,"t":11,"v":11000},{"run":60,"t":11.3,"v":28000},{"run":60,"t":11.35,"v":11500},{"run":60,"t":12.3,"v":14000},{"run":60,"t":13.1,"v":16000},{"run":60,"t":13.15,"v":51000},{"run":60,"t":13.2,"v":16000},{"run":60,"t":14.2,"v":18000},{"run":60,"t":14.25,"v":43000},{"run":60,"t":14.3,"v":18000},{"run":60,"t":15.3,"v":17000},{"run":60,"t":16.1,"v":15000},{"run":60,"t":16.15,"v":3200},{"run":60,"t":25,"v":3200},
{"run":61,"t":0,"v":0},{"run":61,"t":4.2,"v":0},{"run":61,"t":4.5,"v":7800},{"run":61,"t":6,"v":8600},{"run":61,"t":8,"v":9300},{"run":61,"t":9,"v":13000},{"run":61,"t":10,"v":18000},{"run":61,"t":11,"v":23000},{"run":61,"t":11.5,"v":44000},{"run":61,"t":11.55,"v":23500},{"run":61,"t":12.5,"v":28000},{"run":61,"t":13.5,"v":33000},{"run":61,"t":13.9,"v":77000},{"run":61,"t":13.95,"v":34000},{"run":61,"t":15,"v":38000},{"run":61,"t":15.5,"v":87000},{"run":61,"t":15.55,"v":38000},{"run":61,"t":16.5,"v":36000},{"run":61,"t":17,"v":35000},{"run":61,"t":17.2,"v":63000},{"run":61,"t":17.25,"v":34000},{"run":61,"t":18,"v":30000},{"run":61,"t":18.9,"v":28000},{"run":61,"t":18.95,"v":6100},{"run":61,"t":25,"v":6100},
{"run":62,"t":0,"v":0},{"run":62,"t":4.3,"v":0},{"run":62,"t":4.7,"v":3900},{"run":62,"t":6,"v":4400},{"run":62,"t":8,"v":4900},{"run":62,"t":9,"v":7200},{"run":62,"t":10,"v":10500},{"run":62,"t":11,"v":13500},{"run":62,"t":12,"v":16500},{"run":62,"t":12.2,"v":37000},{"run":62,"t":12.25,"v":16500},{"run":62,"t":13.2,"v":19500},{"run":62,"t":14,"v":22000},{"run":62,"t":14.05,"v":59000},{"run":62,"t":14.1,"v":22000},{"run":62,"t":15,"v":23000},{"run":62,"t":15.7,"v":21000},{"run":62,"t":15.75,"v":50000},{"run":62,"t":15.8,"v":21000},{"run":62,"t":16.6,"v":19000},{"run":62,"t":16.65,"v":3900},{"run":62,"t":25,"v":3900},
{"run":63,"t":0,"v":0},{"run":63,"t":4.2,"v":0},{"run":63,"t":4.5,"v":6000},{"run":63,"t":6,"v":6700},{"run":63,"t":8,"v":7300},{"run":63,"t":9,"v":10500},{"run":63,"t":10,"v":15000},{"run":63,"t":11,"v":19000},{"run":63,"t":11.8,"v":22000},{"run":63,"t":11.85,"v":56000},{"run":63,"t":11.9,"v":22000},{"run":63,"t":13,"v":26000},{"run":63,"t":14,"v":29000},{"run":63,"t":14.4,"v":71000},{"run":63,"t":14.45,"v":29500},{"run":63,"t":15.4,"v":31000},{"run":63,"t":16.2,"v":30000},{"run":63,"t":16.25,"v":64000},{"run":63,"t":16.3,"v":29000},{"run":63,"t":17.5,"v":27000},{"run":63,"t":18,"v":45000},{"run":63,"t":18.05,"v":6000},{"run":63,"t":25,"v":6000},
{"run":64,"t":0,"v":0},{"run":64,"t":4.25,"v":0},{"run":64,"t":4.6,"v":4900},{"run":64,"t":6,"v":5500},{"run":64,"t":8,"v":6100},{"run":64,"t":9,"v":8800},{"run":64,"t":10,"v":12500},{"run":64,"t":10.7,"v":15000},{"run":64,"t":10.75,"v":24000},{"run":64,"t":10.8,"v":15000},{"run":64,"t":12,"v":19000},{"run":64,"t":13,"v":22000},{"run":64,"t":13.55,"v":40000},{"run":64,"t":13.6,"v":22500},{"run":64,"t":14.7,"v":25000},{"run":64,"t":15.6,"v":24000},{"run":64,"t":15.65,"v":58000},{"run":64,"t":15.7,"v":24000},{"run":64,"t":16.4,"v":22000},{"run":64,"t":16.45,"v":4900},{"run":64,"t":25,"v":4900},
{"run":65,"t":0,"v":0},{"run":65,"t":4.2,"v":0},{"run":65,"t":4.55,"v":2800},{"run":65,"t":6,"v":3200},{"run":65,"t":8,"v":3700},{"run":65,"t":9,"v":5400},{"run":65,"t":10,"v":7800},{"run":65,"t":11,"v":9800},{"run":65,"t":12,"v":12000},{"run":65,"t":12.9,"v":13500},{"run":65,"t":12.95,"v":30000},{"run":65,"t":13,"v":13500},{"run":65,"t":14,"v":15000},{"run":65,"t":14.9,"v":14000},{"run":65,"t":15.4,"v":3200},{"run":65,"t":25,"v":3200},
{"run":66,"t":0,"v":0},{"run":66,"t":4.3,"v":0},{"run":66,"t":4.6,"v":5200},{"run":66,"t":6,"v":5900},{"run":66,"t":8,"v":6400},{"run":66,"t":9,"v":9200},{"run":66,"t":10,"v":13000},{"run":66,"t":11,"v":16000},{"run":66,"t":12,"v":19000},{"run":66,"t":13,"v":22000},{"run":66,"t":13.7,"v":24000},{"run":66,"t":13.75,"v":66000},{"run":66,"t":13.8,"v":24500},{"run":66,"t":14.9,"v":27000},{"run":66,"t":15.9,"v":26000},{"run":66,"t":16.9,"v":24000},{"run":66,"t":17.3,"v":52000},{"run":66,"t":17.35,"v":5400},{"run":66,"t":25,"v":5400},
{"run":67,"t":0,"v":0},{"run":67,"t":4.2,"v":0},{"run":67,"t":4.6,"v":6200},{"run":67,"t":6,"v":7000},{"run":67,"t":9,"v":9000},{"run":67,"t":11,"v":16000},{"run":67,"t":13,"v":26000},{"run":67,"t":15,"v":35000},{"run":67,"t":16.5,"v":38000},{"run":67,"t":17.5,"v":37000},{"run":67,"t":18.2,"v":40000},{"run":67,"t":18.25,"v":6300},{"run":67,"t":25,"v":6300},
{"run":68,"t":0,"v":0},{"run":68,"t":4.25,"v":0},{"run":68,"t":4.6,"v":3600},{"run":68,"t":6,"v":4100},{"run":68,"t":9,"v":5600},{"run":68,"t":11,"v":10000},{"run":68,"t":13,"v":17000},{"run":68,"t":15,"v":24000},{"run":68,"t":16.5,"v":27000},{"run":68,"t":17.8,"v":26000},{"run":68,"t":18.8,"v":58000},{"run":68,"t":18.85,"v":4600},{"run":68,"t":25,"v":4600},
{"run":69,"t":0,"v":0},{"run":69,"t":4.2,"v":0},{"run":69,"t":4.5,"v":5100},{"run":69,"t":6,"v":5800},{"run":69,"t":9,"v":8000},{"run":69,"t":11,"v":14000},{"run":69,"t":13,"v":21000},{"run":69,"t":14.5,"v":27000},{"run":69,"t":16,"v":31000},{"run":69,"t":17.2,"v":31500},{"run":69,"t":17.25,"v":70000},{"run":69,"t":17.3,"v":31000},{"run":69,"t":18,"v":29000},{"run":69,"t":18.5,"v":5300},{"run":69,"t":25,"v":5300},
{"run":70,"t":0,"v":0},{"run":70,"t":4.3,"v":0},{"run":70,"t":4.7,"v":3400},{"run":70,"t":6,"v":3900},{"run":70,"t":9,"v":5200},{"run":70,"t":11,"v":9000},{"run":70,"t":13,"v":13500},{"run":70,"t":14.5,"v":16000},{"run":70,"t":15.5,"v":17500},{"run":70,"t":16.5,"v":17000},{"run":70,"t":16.55,"v":42000},{"run":70,"t":16.6,"v":17000},{"run":70,"t":17.3,"v":16000},{"run":70,"t":17.35,"v":3500},{"run":70,"t":25,"v":3500},
{"run":71,"t":0,"v":0},{"run":71,"t":4.2,"v":0},{"run":71,"t":4.5,"v":6600},{"run":71,"t":6,"v":7400},{"run":71,"t":8,"v":8200},{"run":71,"t":9,"v":12000},{"run":71,"t":10,"v":17000},{"run":71,"t":11,"v":22000},{"run":71,"t":12,"v":28000},{"run":71,"t":12.6,"v":33000},{"run":71,"t":12.65,"v":58000},{"run":71,"t":12.7,"v":33000},{"run":71,"t":13.5,"v":37000},{"run":71,"t":14.5,"v":40000},{"run":71,"t":14.55,"v":74000},{"run":71,"t":14.6,"v":40000},{"run":71,"t":15.5,"v":42000},{"run":71,"t":16.3,"v":40000},{"run":71,"t":16.35,"v":68000},{"run":71,"t":16.4,"v":39000},{"run":71,"t":17,"v":37000},{"run":71,"t":17.1,"v":6100},{"run":71,"t":25,"v":6100},
{"run":72,"t":0,"v":0},{"run":72,"t":4.25,"v":0},{"run":72,"t":4.6,"v":4000},{"run":72,"t":6,"v":4600},{"run":72,"t":8,"v":5100},{"run":72,"t":9,"v":7600},{"run":72,"t":10,"v":11000},{"run":72,"t":11,"v":15000},{"run":72,"t":12,"v":20000},{"run":72,"t":13,"v":26000},{"run":72,"t":13.4,"v":30000},{"run":72,"t":13.45,"v":62000},{"run":72,"t":13.5,"v":30000},{"run":72,"t":14.3,"v":34000},{"run":72,"t":15.1,"v":36000},{"run":72,"t":15.15,"v":72000},{"run":72,"t":15.2,"v":36000},{"run":72,"t":16,"v":33000},{"run":72,"t":16.7,"v":31000},{"run":72,"t":16.75,"v":4700},{"run":72,"t":25,"v":4700},
{"run":73,"t":0,"v":0},{"run":73,"t":4.2,"v":0},{"run":73,"t":4.5,"v":5400},{"run":73,"t":6,"v":6100},{"run":73,"t":8,"v":6800},{"run":73,"t":9,"v":9800},{"run":73,"t":10,"v":14500},{"run":73,"t":11,"v":20000},{"run":73,"t":11.5,"v":24000},{"run":73,"t":11.55,"v":48000},{"run":73,"t":11.6,"v":24000},{"run":73,"t":12.5,"v":30000},{"run":73,"t":13.5,"v":36000},{"run":73,"t":14,"v":40000},{"run":73,"t":14.05,"v":80000},{"run":73,"t":14.1,"v":40000},{"run":73,"t":15,"v":43000},{"run":73,"t":15.9,"v":42000},{"run":73,"t":15.95,"v":76000},{"run":73,"t":16,"v":41000},{"run":73,"t":16.8,"v":38000},{"run":73,"t":17.6,"v":33000},{"run":73,"t":17.65,"v":5500},{"run":73,"t":25,"v":5500},
{"run":74,"t":0,"v":0},{"run":74,"t":4.3,"v":0},{"run":74,"t":4.7,"v":2200},{"run":74,"t":6,"v":2700},{"run":74,"t":8,"v":3100},{"run":74,"t":9,"v":4800},{"run":74,"t":10,"v":7000},{"run":74,"t":11,"v":10000},{"run":74,"t":12,"v":13500},{"run":74,"t":13,"v":17000},{"run":74,"t":13.9,"v":20000},{"run":74,"t":13.95,"v":45000},{"run":74,"t":14,"v":20000},{"run":74,"t":14.8,"v":22000},{"run":74,"t":15.6,"v":20000},{"run":74,"t":16.2,"v":18000},{"run":74,"t":16.25,"v":2800},{"run":74,"t":25,"v":2800},
{"run":75,"t":0,"v":0},{"run":75,"t":4.2,"v":0},{"run":75,"t":4.6,"v":5900},{"run":75,"t":6,"v":6600},{"run":75,"t":8,"v":7200},{"run":75,"t":9,"v":11000},{"run":75,"t":10,"v":15500},{"run":75,"t":10.5,"v":19000},{"run":75,"t":10.55,"v":40000},{"run":75,"t":10.6,"v":19000},{"run":75,"t":11.5,"v":25000},{"run":75,"t":12.5,"v":31000},{"run":75,"t":13.3,"v":36000},{"run":75,"t":13.35,"v":70000},{"run":75,"t":13.4,"v":36000},{"run":75,"t":14.4,"v":39000},{"run":75,"t":15.3,"v":41000},{"run":75,"t":15.35,"v":80000},{"run":75,"t":15.4,"v":41000},{"run":75,"t":16.2,"v":38000},{"run":75,"t":17.1,"v":34000},{"run":75,"t":17.15,"v":62000},{"run":75,"t":17.2,"v":33000},{"run":75,"t":17.8,"v":30000},{"run":75,"t":17.85,"v":6200},{"run":75,"t":25,"v":6200},
{"run":76,"t":0,"v":0},{"run":76,"t":4.25,"v":0},{"run":76,"t":4.6,"v":3200},{"run":76,"t":6,"v":3700},{"run":76,"t":8,"v":4200},{"run":76,"t":9,"v":6200},{"run":76,"t":10,"v":9200},{"run":76,"t":11,"v":12500},{"run":76,"t":12,"v":16000},{"run":76,"t":12.8,"v":19000},{"run":76,"t":12.85,"v":42000},{"run":76,"t":12.9,"v":19000},{"run":76,"t":14,"v":23000},{"run":76,"t":14.9,"v":26000},{"run":76,"t":14.95,"v":64000},{"run":76,"t":15,"v":26000},{"run":76,"t":16,"v":24000},{"run":76,"t":16.5,"v":22000},{"run":76,"t":16.55,"v":3300},{"run":76,"t":25,"v":3300}
],
"dashed": [
{"run":101,"t":0,"v":0},{"run":101,"t":4.3,"v":0},{"run":101,"t":4.6,"v":8000},{"run":101,"t":5,"v":20000},{"run":101,"t":5.5,"v":33000},{"run":101,"t":6.2,"v":42000},{"run":101,"t":7,"v":46000},{"run":101,"t":8,"v":48500},{"run":101,"t":9.5,"v":49000},{"run":101,"t":10.5,"v":52000},{"run":101,"t":11.5,"v":58000},{"run":101,"t":12.5,"v":64000},{"run":101,"t":13.5,"v":70000},{"run":101,"t":14.5,"v":75000},{"run":101,"t":15,"v":77000},{"run":101,"t":15.7,"v":72000},{"run":101,"t":16.2,"v":60000},{"run":101,"t":16.4,"v":25000},{"run":101,"t":16.6,"v":4600},{"run":101,"t":25,"v":4600},
{"run":102,"t":0,"v":0},{"run":102,"t":4.25,"v":0},{"run":102,"t":4.5,"v":10000},{"run":102,"t":5,"v":28000},{"run":102,"t":5.5,"v":45000},{"run":102,"t":6,"v":52000},{"run":102,"t":7,"v":55000},{"run":102,"t":8,"v":54500},{"run":102,"t":9,"v":55000},{"run":102,"t":10,"v":62000},{"run":102,"t":11,"v":68000},{"run":102,"t":12,"v":72000},{"run":102,"t":13.2,"v":77400},{"run":102,"t":14.8,"v":80100},{"run":102,"t":15.1,"v":83700},{"run":102,"t":16,"v":83400},{"run":102,"t":16.1,"v":40000},{"run":102,"t":16.3,"v":5000},{"run":102,"t":25,"v":5000},
{"run":103,"t":0,"v":0},{"run":103,"t":4.3,"v":0},{"run":103,"t":4.7,"v":6000},{"run":103,"t":5.2,"v":14000},{"run":103,"t":6,"v":26000},{"run":103,"t":7,"v":33000},{"run":103,"t":8,"v":36000},{"run":103,"t":9,"v":38000},{"run":103,"t":10,"v":41000},{"run":103,"t":11,"v":45000},{"run":103,"t":12,"v":50000},{"run":103,"t":13,"v":58000},{"run":103,"t":14,"v":66000},{"run":103,"t":15,"v":72000},{"run":103,"t":15.8,"v":81500},{"run":103,"t":17.7,"v":81800},{"run":103,"t":17.72,"v":20000},{"run":103,"t":18,"v":6200},{"run":103,"t":25,"v":6200},
{"run":104,"t":0,"v":0},{"run":104,"t":4.2,"v":0},{"run":104,"t":4.5,"v":7000},{"run":104,"t":5,"v":16000},{"run":104,"t":5.8,"v":30000},{"run":104,"t":6.5,"v":35000},{"run":104,"t":8,"v":37000},{"run":104,"t":9,"v":38500},{"run":104,"t":10,"v":40000},{"run":104,"t":11.5,"v":43000},{"run":104,"t":12.5,"v":47000},{"run":104,"t":13,"v":48000},{"run":104,"t":14,"v":52000},{"run":104,"t":15,"v":57000},{"run":104,"t":16,"v":62000},{"run":104,"t":17.05,"v":75800},{"run":104,"t":18.56,"v":75800},{"run":104,"t":18.6,"v":4800},{"run":104,"t":25,"v":4800},
{"run":105,"t":0,"v":0},{"run":105,"t":4.35,"v":0},{"run":105,"t":4.8,"v":9000},{"run":105,"t":5.5,"v":22000},{"run":105,"t":6.5,"v":31000},{"run":105,"t":8,"v":34000},{"run":105,"t":10,"v":35000},{"run":105,"t":12,"v":42000},{"run":105,"t":13,"v":55000},{"run":105,"t":14,"v":62000},{"run":105,"t":15,"v":64000},{"run":105,"t":16,"v":60000},{"run":105,"t":17,"v":45000},{"run":105,"t":17.5,"v":35000},{"run":105,"t":18,"v":33000},{"run":105,"t":19.5,"v":18000},{"run":105,"t":21,"v":16500},{"run":105,"t":23.8,"v":14300},{"run":105,"t":23.85,"v":5500},{"run":105,"t":25,"v":5500},
{"run":106,"t":0,"v":0},{"run":106,"t":4.3,"v":0},{"run":106,"t":4.7,"v":5000},{"run":106,"t":5.5,"v":12000},{"run":106,"t":6.5,"v":20000},{"run":106,"t":7.5,"v":25000},{"run":106,"t":8.5,"v":28000},{"run":106,"t":9.5,"v":30000},{"run":106,"t":10.5,"v":33000},{"run":106,"t":11.5,"v":38000},{"run":106,"t":12.5,"v":45000},{"run":106,"t":13.5,"v":52000},{"run":106,"t":14.5,"v":58000},{"run":106,"t":15.5,"v":55000},{"run":106,"t":16.5,"v":40000},{"run":106,"t":17,"v":30000},{"run":106,"t":17.8,"v":32000},{"run":106,"t":18.5,"v":28000},{"run":106,"t":19,"v":8000},{"run":106,"t":19.5,"v":3000},{"run":106,"t":25,"v":3000},
{"run":107,"t":0,"v":0},{"run":107,"t":4.4,"v":0},{"run":107,"t":5,"v":4000},{"run":107,"t":8,"v":5000},{"run":107,"t":10,"v":10000},{"run":107,"t":12,"v":20000},{"run":107,"t":14,"v":40000},{"run":107,"t":16,"v":55000},{"run":107,"t":18,"v":60000},{"run":107,"t":19.7,"v":66000},{"run":107,"t":20.3,"v":63500},{"run":107,"t":20.9,"v":63000},{"run":107,"t":21,"v":6000},{"run":107,"t":25,"v":6000},
{"run":108,"t":0,"v":0},{"run":108,"t":4.3,"v":0},{"run":108,"t":4.6,"v":9000},{"run":108,"t":5.2,"v":18000},{"run":108,"t":6,"v":27000},{"run":108,"t":7,"v":30500},{"run":108,"t":8,"v":31000},{"run":108,"t":9,"v":33000},{"run":108,"t":10,"v":36000},{"run":108,"t":11,"v":40000},{"run":108,"t":12,"v":46000},{"run":108,"t":13,"v":50000},{"run":108,"t":14,"v":54000},{"run":108,"t":14.8,"v":56000},{"run":108,"t":15.3,"v":50000},{"run":108,"t":15.5,"v":20000},{"run":108,"t":15.7,"v":4000},{"run":108,"t":25,"v":4000},
{"run":109,"t":0,"v":0},{"run":109,"t":4.2,"v":0},{"run":109,"t":4.5,"v":12000},{"run":109,"t":5,"v":24000},{"run":109,"t":5.5,"v":36000},{"run":109,"t":6,"v":41000},{"run":109,"t":7,"v":42500},{"run":109,"t":8,"v":42000},{"run":109,"t":9,"v":43500},{"run":109,"t":10,"v":47000},{"run":109,"t":11,"v":52000},{"run":109,"t":12,"v":57000},{"run":109,"t":13,"v":62000},{"run":109,"t":14,"v":67000},{"run":109,"t":14.6,"v":71000},{"run":109,"t":15,"v":68000},{"run":109,"t":15.5,"v":45000},{"run":109,"t":16,"v":6000},{"run":109,"t":25,"v":6000}
]
},
"encoding": {
  "x": {"field": "t", "type": "quantitative", "scale": {"domain": [-1.25, 25.93], "nice": false, "zero": false}, "axis": {"values": [0, 5, 10, 15, 20, 25], "title": "Time (hr)", "titleFontSize": 22, "titlePadding": -2, "labelPadding": 8, "encode": {"ticks": {"update": {"y2": {"value": -7}}}}}},
  "y": {"field": "v", "type": "quantitative", "scale": {"domain": [-4380, 91920], "nice": false, "zero": false}, "axis": {"values": [0, 20000, 40000, 60000, 80000], "format": "d", "title": "LP_COR_PB_PD (kg)", "titleFontSize": 24, "titlePadding": 12, "labelPadding": 4, "encode": {"ticks": {"update": {"x2": {"value": 7}}}}}}
},
"layer": [
  {"data": {"name": "runs"}, "mark": {"type": "line", "color": "#7f7f7f", "strokeWidth": 1.2, "opacity": 0.72}, "encoding": {"detail": {"field": "run"}}},
  {"data": {"name": "dashed"}, "mark": {"type": "line", "color": "#9a9a9a", "strokeWidth": 0.8, "opacity": 0.6, "strokeDash": [4, 2]}, "encoding": {"detail": {"field": "run"}}},
  {"data": {"name": "stats"}, "transform": [{"filter": "datum.stat !== '95ᵗʰ Percentile'"}], "mark": {"type": "line", "strokeWidth": 2.5}, "encoding": {"color": {"field": "stat", "type": "nominal", "scale": {"domain": ["Median", "5ᵗʰ Percentile", "95ᵗʰ Percentile"], "range": ["#008000", "#0000ff", "#b22222"]}, "legend": {"title": null}}}},
  {"data": {"name": "stats"}, "transform": [{"filter": "datum.stat === '95ᵗʰ Percentile'"}], "mark": {"type": "line", "strokeWidth": 2.5}, "encoding": {"color": {"field": "stat", "type": "nominal", "scale": {"domain": ["Median", "5ᵗʰ Percentile", "95ᵗʰ Percentile"], "range": ["#008000", "#0000ff", "#b22222"]}, "legend": {"title": null}}}}
]
}
